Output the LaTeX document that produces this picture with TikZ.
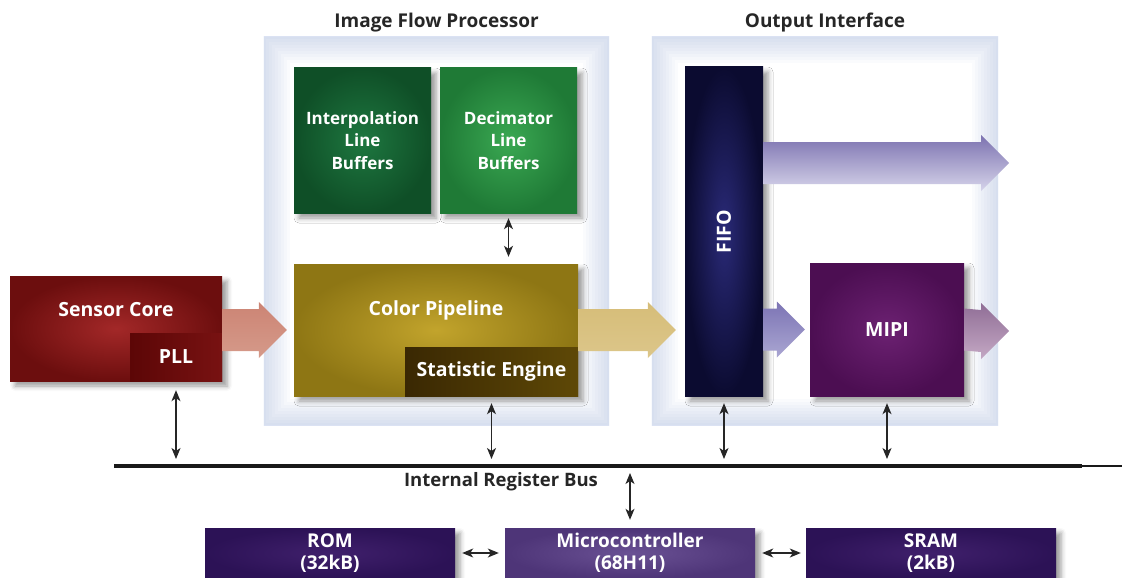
\documentclass[tikz,border=0pt]{standalone}
\usepackage{fontspec}
\setmainfont{Open Sans}
\usetikzlibrary{arrows.meta, calc, positioning, shadows.blur}

\definecolor{coreIn}{HTML}{A32828}
\definecolor{coreOut}{HTML}{6C0E0E}
\definecolor{pllL}{HTML}{5C0606}
\definecolor{pllR}{HTML}{781212}
\definecolor{interpIn}{HTML}{1E7740}
\definecolor{interpOut}{HTML}{0F4F27}
\definecolor{decIn}{HTML}{3AA852}
\definecolor{decOut}{HTML}{1F7A36}
\definecolor{pipeIn}{HTML}{C2A42C}
\definecolor{pipeOut}{HTML}{8E7614}
\definecolor{statL}{HTML}{3A2803}
\definecolor{statR}{HTML}{5E4806}
\definecolor{fifoIn}{HTML}{2A2A78}
\definecolor{fifoOut}{HTML}{0B0B30}
\definecolor{mipiIn}{HTML}{6C2172}
\definecolor{mipiOut}{HTML}{4C0E52}
\definecolor{memIn}{HTML}{40206C}
\definecolor{memOut}{HTML}{2C1256}
\definecolor{microIn}{HTML}{6A5194}
\definecolor{microOut}{HTML}{4E3578}
\definecolor{glow}{HTML}{9FB2DE}

\tikzset{
  panel/.style={fill=white, minimum width=345pt, minimum height=388pt, inner sep=0pt},
  panelglow/.style={draw=glow, opacity=0.05},
  paneltitle/.style={font=\fontsize{19}{22}\selectfont\bfseries, text=black!85},
  boxtext/.style={text=white, font=\fontsize{19.5}{22}\selectfont\bfseries, align=center},
  block/.style={boxtext, inner sep=0pt, shading=radial,
    blur shadow={shadow xshift=5pt, shadow yshift=-5pt, shadow blur radius=5pt, shadow opacity=40}},
  subblock/.style={boxtext, inner sep=0pt, anchor=south east},
  memblock/.style={block, font=\fontsize{19}{22}\selectfont\bfseries, minimum width=250pt, minimum height=50pt},
  regarrow/.style={{Stealth[length=11pt,width=9pt,inset=3pt]}-{Stealth[length=11pt,width=9pt,inset=3pt]}, line width=1.2pt, black!85},
  bigarrow/.style={to path={
    ($(\tikztostart)+(0,-21)$) -- ($(\tikztotarget)+(-28,-21)$) -- ($(\tikztotarget)+(-28,-28)$)
    -- (\tikztotarget) -- ($(\tikztotarget)+(-28,28)$) -- ($(\tikztotarget)+(-28,21)$)
    -- ($(\tikztostart)+(0,21)$) -- cycle}},
}

\begin{document}
\begin{tikzpicture}[x=1pt, y=-1pt]
\useasboundingbox (0,0) rectangle (1122,578);

% panels
\node[panel] (ifp) at (436.5,231) {};
\node[panel, minimum width=346pt] (oif) at (825,231) {};
\foreach \p in {ifp, oif} {
  \begin{scope}
    \clip (\p.south west) rectangle (\p.north east);
    \foreach \w in {4,10,...,52}
      \draw[panelglow, line width=\w*1pt] (\p.south west) rectangle (\p.north east);
  \end{scope}
}
\node[paneltitle, above=1pt of ifp] {Image Flow Processor};
\node[paneltitle, above=1pt of oif] {Output Interface};

% blocks
\node[block, inner color=coreIn, outer color=coreOut, minimum width=212pt, minimum height=105pt,
  label={[boxtext, yshift=19pt]center:Sensor Core}] (core) at (116,328.5) {};
\node[subblock, left color=pllL, right color=pllR, minimum width=92pt, minimum height=48pt] (pll) at (core.south east) {PLL};

\node[block, inner color=interpIn, outer color=interpOut, minimum width=137pt, minimum height=145pt,
  font=\fontsize{17}{22.5}\selectfont\bfseries] (interp) at (362.5,140.5) {Interpolation\\Line\\Buffers};
\node[block, inner color=decIn, outer color=decOut, minimum width=137pt, minimum height=145pt,
  font=\fontsize{17}{22.5}\selectfont\bfseries] (dec) at (508.5,140.5) {Decimator\\Line\\Buffers};

\node[block, inner color=pipeIn, outer color=pipeOut, minimum width=284pt, minimum height=132pt,
  label={[boxtext, yshift=20pt]center:Color Pipeline}] (pipe) at (436,330) {};
\node[subblock, left color=statL, right color=statR, minimum width=173pt, minimum height=49pt] (stat) at (pipe.south east) {Statistic Engine};

\node[block, inner color=fifoIn, outer color=fifoOut, minimum width=78pt, minimum height=329pt,
  label={[boxtext, rotate=90]center:FIFO}] (fifo) at (724,231.5) {};
\node[block, inner color=mipiIn, outer color=mipiOut, minimum width=154pt, minimum height=133pt] (mipi) at (887,329.5) {MIPI};

\node[memblock, inner color=memIn, outer color=memOut] (rom) at (330,553) {ROM\\(32kB)};
\node[memblock, inner color=microIn, outer color=microOut] (micro) at (630,553) {Microcontroller\\(68H11)};
\node[memblock, inner color=memIn, outer color=memOut] (sram) at (931,553) {SRAM\\(2kB)};

% data path arrows
\coordinate (fifoin) at ([xshift=-9pt]fifo.west |- pipe.east);
\coordinate (outtop) at (1009,163);
\coordinate (outmipi) at (1009,331);
\shade[bigarrow, top color={rgb,255:red,204;green,132;blue,116}, middle color={rgb,255:red,230;green,192;blue,179}, bottom color={rgb,255:red,213;green,154;blue,138}]
  (core.east |- pipe.west) to ([xshift=-7pt]pipe.west);
\shade[bigarrow, top color={rgb,255:red,214;green,189;blue,120}, middle color={rgb,255:red,239;green,227;blue,192}, bottom color={rgb,255:red,220;green,198;blue,138}]
  (pipe.east) to (fifoin);
\shade[bigarrow, top color={rgb,255:red,124;green,114;blue,176}, middle color={rgb,255:red,190;green,185;blue,220}, bottom color={rgb,255:red,214;green,212;blue,234}]
  (fifo.east |- outtop) to (outtop);
\shade[bigarrow, top color={rgb,255:red,124;green,116;blue,180}, bottom color={rgb,255:red,170;green,166;blue,210}]
  (fifo.east |- mipi.west) to ([xshift=-5pt]mipi.west);
\shade[bigarrow, top color={rgb,255:red,144;green,110;blue,150}, bottom color={rgb,255:red,196;green,168;blue,196}]
  (mipi.east) to (outmipi);

% register bus
\coordinate (busL) at (114,466);
\coordinate (busE) at (1082,466);
\coordinate (busR) at (1122,466);
\draw[line width=3.5pt, black!90] (busL) -- (busE);
\draw[line width=2pt, black!90] (busE) -- (busR);
\node[font=\fontsize{18.5}{20}\selectfont\bfseries, text=black!85] (busname) at (501,482) {Internal Register Bus};

\draw[regarrow, shorten <=9pt, shorten >=7pt] (pll.south) -- (pll.south |- busL);
\draw[regarrow, shorten <=7pt, shorten >=7pt] (stat.south) -- (stat.south |- busL);
\draw[regarrow, shorten <=7pt, shorten >=7pt] (fifo.south) -- (fifo.south |- busL);
\draw[regarrow, shorten <=7pt, shorten >=7pt] (mipi.south) -- (mipi.south |- busL);
\draw[regarrow, shorten <=5pt, shorten >=7pt] (dec.south) -- (dec.south |- pipe.north);
\draw[regarrow, shorten <=7pt, shorten >=8pt] (micro.north |- busL) -- (micro.north);
\draw[regarrow, shorten <=7pt, shorten >=6pt] (rom.east) -- (micro.west);
\draw[regarrow, shorten <=7pt, shorten >=5pt] (micro.east) -- (sram.west);
\end{tikzpicture}
\end{document}
